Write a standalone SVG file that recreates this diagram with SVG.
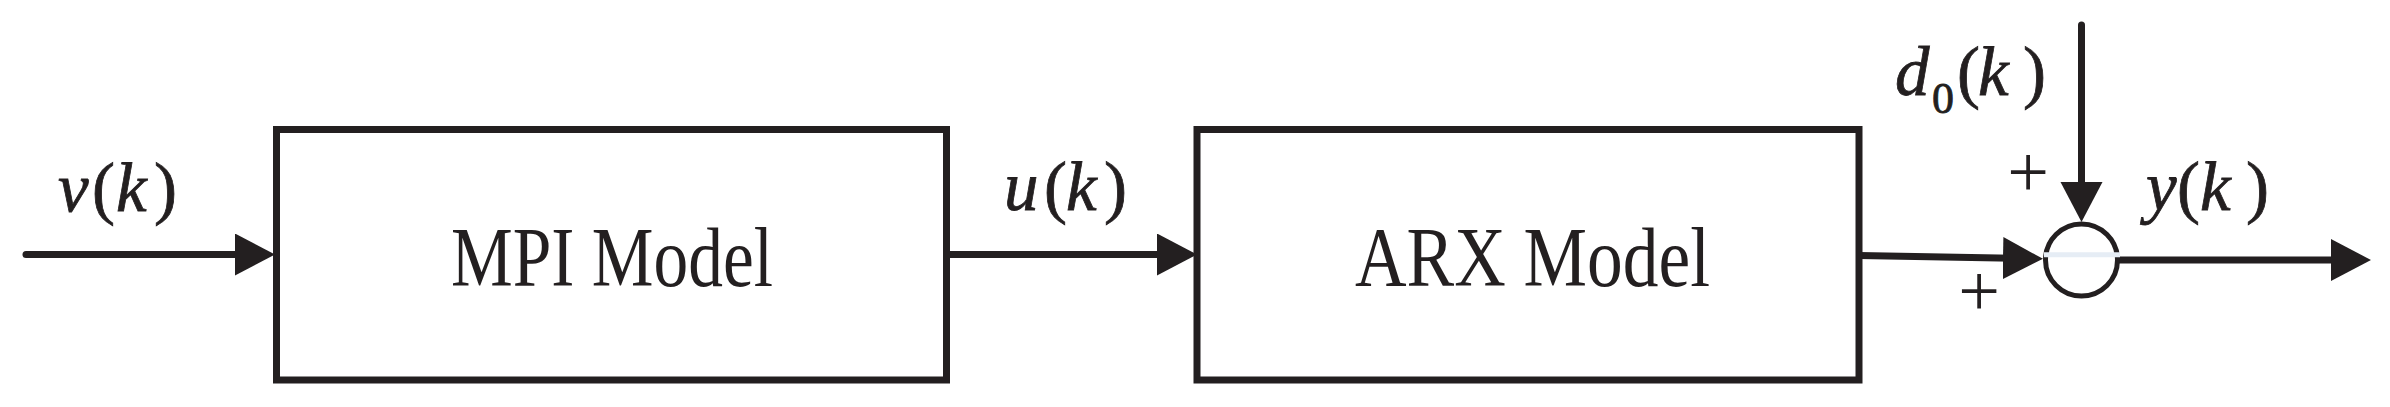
<svg xmlns="http://www.w3.org/2000/svg" width="2390" height="407" viewBox="0 0 2390 407">
<style>
.box{fill:#fff;stroke:#231f20;stroke-width:7}
.ln{fill:none;stroke:#231f20;stroke-width:7}
.sum{fill:#fff;stroke:#231f20;stroke-width:5}
.lbl{font-family:"Liberation Serif","Times New Roman",serif;fill:#231f20}
.it{font-style:italic}
.big{font-size:85px}
.var{font-size:69px;stroke:#231f20;stroke-width:0.8}
.sub{font-size:44px}
.pl{font-size:74px}
</style>
<defs>
<marker id="ah" markerUnits="userSpaceOnUse" markerWidth="42" markerHeight="44" refX="10" refY="21" orient="auto" viewBox="0 0 42 44">
<path d="M0,0 L40,21 L0,42 Z" fill="#231f20"/>
</marker>
</defs>
<rect width="2390" height="407" fill="#fff"/>
<g id="connectors">
<line class="ln" x1="26" y1="254.5" x2="245" y2="254.5" stroke-linecap="round" marker-end="url(#ah)"/>
<line class="ln" x1="946.5" y1="254.5" x2="1167" y2="254.5" marker-end="url(#ah)"/>
<line class="ln" x1="1859" y1="255.5" x2="2013" y2="258.3" marker-end="url(#ah)"/>
<line class="ln" x1="2081.5" y1="25" x2="2081.5" y2="192" stroke-linecap="round" marker-end="url(#ah)"/>
<line class="ln" x1="2118" y1="260" x2="2341" y2="260" marker-end="url(#ah)"/>
</g>
<g id="mpi">
<rect class="box" x="276.5" y="129.5" width="670" height="250.5"/>
<text class="lbl big" x="451" y="286" textLength="322" lengthAdjust="spacingAndGlyphs">MPI Model</text>
</g>
<g id="arx">
<rect class="box" x="1197" y="129.5" width="662" height="250.5"/>
<text class="lbl big" x="1355" y="286" textLength="355" lengthAdjust="spacingAndGlyphs">ARX Model</text>
</g>
<g id="sum">
<circle class="sum" cx="2081.5" cy="260" r="36"/>
<line x1="2044" y1="254.7" x2="2120" y2="254.7" stroke="#e6edf5" stroke-width="5"/>
<text class="lbl pl" x="2028" y="197" text-anchor="middle">+</text>
<text class="lbl pl" x="1979" y="316" text-anchor="middle">+</text>
</g>
<g id="labels">
<text class="lbl var" y="211"><tspan class="it" x="58">v</tspan><tspan x="92">(</tspan><tspan class="it" x="116">k</tspan><tspan x="154">)</tspan></text>
<text class="lbl var" y="210"><tspan class="it" x="1004">u</tspan><tspan x="1044">(</tspan><tspan class="it" x="1066">k</tspan><tspan x="1104">)</tspan></text>
<text class="lbl var" y="95"><tspan class="it" x="1895">d</tspan><tspan class="sub" x="1932" y="113">0</tspan><tspan x="1957" y="95">(</tspan><tspan class="it" x="1978">k</tspan><tspan x="2023">)</tspan></text>
<text class="lbl var" y="210"><tspan class="it" x="2146">y</tspan><tspan x="2177">(</tspan><tspan class="it" x="2200">k</tspan><tspan x="2246">)</tspan></text>
</g>
</svg>
